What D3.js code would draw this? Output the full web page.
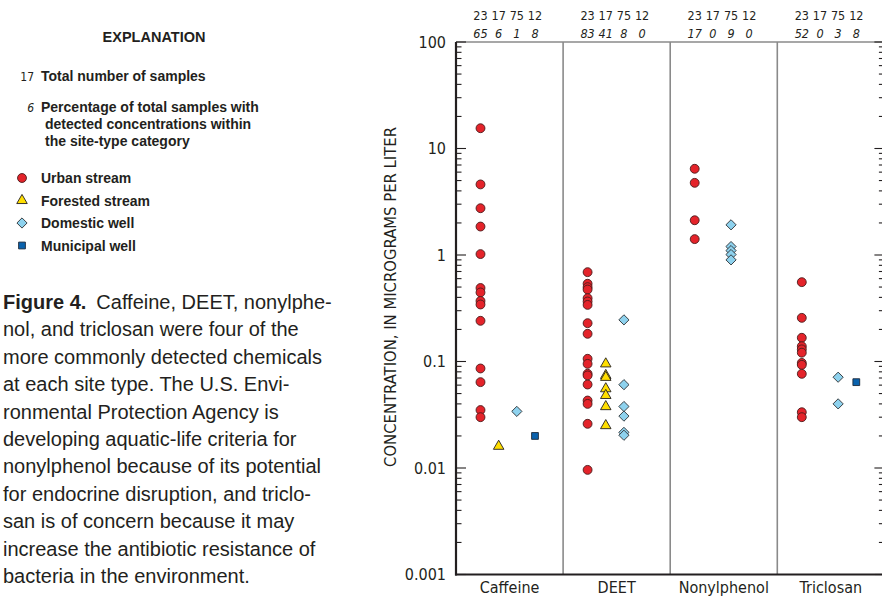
<!DOCTYPE html>
<html>
<head>
<meta charset="utf-8">
<script src="https://cdn.jsdelivr.net/npm/d3@7"></script>
<style>
  html, body { margin: 0; padding: 0; background: #ffffff; }
  svg { display: block; }
</style>
</head>
<body>
<svg id="chart" width="882" height="598"></svg>
<script>
// ---------------- data ----------------
const categories = ["Caffeine", "DEET", "Nonylphenol", "Triclosan"];
const siteTypes = ["Urban stream", "Forested stream", "Domestic well", "Municipal well"];
const sampleCounts = [23, 17, 75, 12];
const detectionPercent = [
  [65, 6, 1, 8],
  [83, 41, 8, 0],
  [17, 0, 9, 0],
  [52, 0, 3, 8]
];
const yTickValues = [0.001, 0.01, 0.1, 1, 10, 100];
const yTickLabels = ["0.001", "0.01", "0.1", "1", "10", "100"];

// concentrations, micrograms per liter
const caffeineUrban = [15.5, 4.6, 2.75, 1.85, 1.02, 0.49, 0.445, 0.37, 0.343, 0.241, 0.086, 0.064, 0.035, 0.030];
const caffeineForested = [0.016];
const caffeineDomestic = [0.034];
const caffeineMunicipal = [0.020];

const deetUrban = [0.69, 0.537, 0.499, 0.474, 0.393, 0.366, 0.34, 0.229, 0.182, 0.106, 0.095, 0.0767, 0.074, 0.0608, 0.043, 0.040, 0.026, 0.0096];
const deetForested = [0.095, 0.074, 0.071, 0.0555, 0.048, 0.0377, 0.025];
const deetDomestic = [0.246, 0.0606, 0.0378, 0.0307, 0.0216, 0.0203];
const deetMunicipal = [];

const nonylphenolUrban = [6.45, 4.76, 2.12, 1.41];
const nonylphenolForested = [];
const nonylphenolDomestic = [1.92, 1.20, 1.10, 1.01, 0.90];
const nonylphenolMunicipal = [];

const triclosanUrban = [0.556, 0.257, 0.167, 0.139, 0.130, 0.121, 0.097, 0.093, 0.0766, 0.0334, 0.030];
const triclosanForested = [];
const triclosanDomestic = [0.0712, 0.040];
const triclosanMunicipal = [0.064];

const valuesByCategory = [
  [caffeineUrban, caffeineForested, caffeineDomestic, caffeineMunicipal],
  [deetUrban, deetForested, deetDomestic, deetMunicipal],
  [nonylphenolUrban, nonylphenolForested, nonylphenolDomestic, nonylphenolMunicipal],
  [triclosanUrban, triclosanForested, triclosanDomestic, triclosanMunicipal]
];

const legendCount = "17";
const legendPercent = "6";
const captionLines = [
  "nol, and triclosan were four of the",
  "more commonly detected chemicals",
  "at each site type. The U.S. Envi-",
  "ronmental Protection Agency is",
  "developing aquatic-life criteria for",
  "nonylphenol because of its potential",
  "for endocrine disruption, and triclo-",
  "san is of concern because it may",
  "increase the antibiotic resistance of",
  "bacteria in the environment."
];

// ---------------- styles ----------------
const TXT = "#231f20";
const NARROW = "'Liberation Sans Narrow', 'DejaVu Sans Condensed', 'Liberation Sans', sans-serif";
const SANS = "'Liberation Sans', Arial, sans-serif";
const markerStyles = [
  { fill: "#e4232a", stroke: "#4a1c1c" },
  { fill: "#ffde00", stroke: "#231f20" },
  { fill: "#8ed2ee", stroke: "#33393d" },
  { fill: "#0a62ad", stroke: "#1d2a3a" }
];
const symbolTypes = ["circle", "triangle", "diamond", "square"];

function markerPath(kind) {
  if (kind === "circle") return d3.symbol(d3.symbolCircle, 62)();
  if (kind === "triangle") return d3.symbol(d3.symbolTriangle, 48)();
  if (kind === "diamond") return d3.symbol(d3.symbolSquare, 52)();
  return d3.symbol(d3.symbolSquare, 46)();
}
function drawMarker(g, kind, x, y, i) {
  g.append("path")
    .attr("d", markerPath(kind))
    .attr("transform", `translate(${x},${y})` + (kind === "diamond" ? " rotate(45)" : ""))
    .attr("fill", markerStyles[i].fill)
    .attr("stroke", markerStyles[i].stroke)
    .attr("stroke-width", 0.9);
}

// ---------------- layout ----------------
const svg = d3.select("#chart");
const plot = { left: 456, right: 884.4, top: 42, bottom: 574.5 };

const y = d3.scaleLog().domain([0.001, 100]).range([plot.bottom, plot.top]);
const x = d3.scaleBand().domain(categories).range([plot.left, plot.right]).padding(0);
const xi = d3.scalePoint().domain(siteTypes).range([24.5, 79]);

// panel dividers
svg.append("g").selectAll("line")
  .data(categories.slice(1))
  .join("line")
  .attr("x1", d => x(d)).attr("x2", d => x(d))
  .attr("y1", plot.top).attr("y2", plot.bottom)
  .attr("stroke", "#8a8a8a").attr("stroke-width", 1.6);
// top border and right border
svg.append("line").attr("x1", plot.left).attr("x2", plot.right)
  .attr("y1", plot.top).attr("y2", plot.top)
  .attr("stroke", "#8a8a8a").attr("stroke-width", 1.6);
svg.append("line").attr("x1", plot.right).attr("x2", plot.right)
  .attr("y1", plot.top).attr("y2", plot.bottom)
  .attr("stroke", "#8a8a8a").attr("stroke-width", 1.6);

// ticks (major and minor), inward on both sides
const allTicks = y.ticks();
const majorSet = new Set(yTickValues);
const gl = svg.append("g");
allTicks.forEach(t => {
  const len = majorSet.has(t) ? 10 : 5.5;
  gl.append("line").attr("x1", plot.left).attr("x2", plot.left + len)
    .attr("y1", y(t)).attr("y2", y(t)).attr("stroke", TXT).attr("stroke-width", 1.1);
  gl.append("line").attr("x1", plot.right).attr("x2", plot.right - len)
    .attr("y1", y(t)).attr("y2", y(t)).attr("stroke", TXT).attr("stroke-width", 1.1);
});

// left axis line and labels
const yAxis = d3.axisLeft(y).tickValues(yTickValues)
  .tickFormat((d, i) => yTickLabels[i]).tickSize(0).tickPadding(10);
const ga = svg.append("g").attr("transform", `translate(${plot.left},0)`).call(yAxis);
ga.select(".domain").remove();
ga.selectAll("text").attr("font-family", NARROW).attr("font-size", 16).attr("fill", TXT);
svg.append("line").attr("x1", plot.left).attr("x2", plot.left)
  .attr("y1", plot.top).attr("y2", plot.bottom + 1)
  .attr("stroke", TXT).attr("stroke-width", 2.2);
svg.append("line").attr("x1", plot.left - 1).attr("x2", plot.right)
  .attr("y1", plot.bottom).attr("y2", plot.bottom)
  .attr("stroke", TXT).attr("stroke-width", 1.8);

// bottom category labels
const xAxis = d3.axisBottom(x).tickSize(0).tickPadding(7);
const gx = svg.append("g").attr("transform", `translate(0,${plot.bottom})`).call(xAxis);
gx.select(".domain").remove();
gx.selectAll("text").attr("font-family", NARROW).attr("font-size", 16).attr("fill", TXT);

// y axis title
svg.append("text")
  .attr("transform", `translate(396,297) rotate(-90)`)
  .attr("text-anchor", "middle")
  .attr("font-family", NARROW).attr("font-size", 16.5).attr("fill", TXT)
  .text("CONCENTRATION, IN MICROGRAMS PER LITER");

// header numbers
categories.forEach((c, ci) => {
  siteTypes.forEach((s, si) => {
    const cx = x(c) + xi(s);
    svg.append("text").attr("x", cx).attr("y", 20).attr("text-anchor", "middle")
      .attr("font-family", NARROW).attr("font-size", 12.5).attr("fill", TXT)
      .text(sampleCounts[si]);
    svg.append("text").attr("x", cx).attr("y", 38).attr("text-anchor", "middle")
      .attr("font-family", NARROW).attr("font-size", 12.5).attr("font-style", "italic").attr("fill", TXT)
      .text(detectionPercent[ci][si]);
  });
});

// points
const gp = svg.append("g");
categories.forEach((c, ci) => {
  siteTypes.forEach((s, si) => {
    valuesByCategory[ci][si].forEach(v => {
      drawMarker(gp, symbolTypes[si], x(c) + xi(s), y(v), si);
    });
  });
});

// ---------------- explanation ----------------
const lg = svg.append("g");
lg.append("text").attr("x", 154).attr("y", 42).attr("text-anchor", "middle")
  .attr("font-family", SANS).attr("font-weight", "bold").attr("font-size", 14.5).attr("fill", TXT)
  .text("EXPLANATION");
lg.append("text").attr("x", 34).attr("y", 81).attr("text-anchor", "end")
  .attr("font-family", NARROW).attr("font-size", 12).attr("fill", TXT).text(legendCount);
lg.append("text").attr("x", 41).attr("y", 81)
  .attr("font-family", SANS).attr("font-weight", "bold").attr("font-size", 14).attr("fill", TXT)
  .text("Total number of samples");
lg.append("text").attr("x", 34).attr("y", 112).attr("text-anchor", "end")
  .attr("font-family", NARROW).attr("font-style", "italic").attr("font-size", 12).attr("fill", TXT).text(legendPercent);
const pctLines = ["Percentage of total samples with", "detected concentrations within", "the site-type category"];
pctLines.forEach((t, i) => {
  lg.append("text").attr("x", i === 0 ? 41 : 45).attr("y", 112 + i * 17)
    .attr("font-family", SANS).attr("font-weight", "bold").attr("font-size", 14).attr("fill", TXT)
    .text(t);
});
siteTypes.forEach((s, i) => {
  const yy = 178 + i * 22.5;
  drawMarker(lg, symbolTypes[i], 22, yy, i);
  lg.append("text").attr("x", 41).attr("y", yy + 5)
    .attr("font-family", SANS).attr("font-weight", "bold").attr("font-size", 14).attr("fill", TXT)
    .text(s);
});

// ---------------- caption ----------------
const cap = svg.append("g").attr("font-family", SANS).attr("font-size", 20).attr("fill", TXT);
const first = cap.append("text").attr("x", 3).attr("y", 309);
first.append("tspan").attr("font-weight", "bold").text("Figure 4.");
first.append("tspan").text("\u2002Caffeine, DEET, nonylphe-");
captionLines.forEach((t, i) => {
  cap.append("text").attr("x", 3).attr("y", 309 + (i + 1) * 27.4).text(t);
});
</script>
</body>
</html>
